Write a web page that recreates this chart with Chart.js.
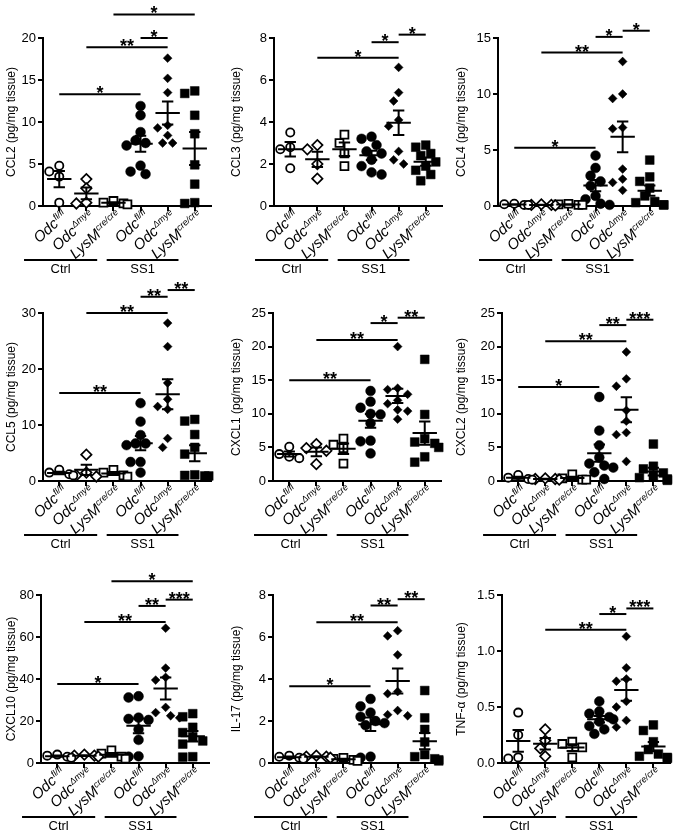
<!DOCTYPE html>
<html><head><meta charset="utf-8">
<script src="https://cdn.jsdelivr.net/npm/chart.js@4"></script>
<style>
html,body{margin:0;padding:0;background:#fff;}
#wrap{position:relative;width:677px;height:839px;overflow:hidden;background:#fff;}
canvas{position:absolute;}
</style></head><body><div id="wrap"></div>
<script>
// ---- categories & labels ----
const categoryBase = ['Odc','Odc','LysM','Odc','Odc','LysM'];
const categorySup = ['fl/fl','\u0394mye','cre/cre','fl/fl','\u0394mye','cre/cre'];
const groupNames = ['Ctrl','SS1'];
const panelTitles = ['CCL2 (pg/mg tissue)','CCL3 (pg/mg tissue)','CCL4 (pg/mg tissue)',
  'CCL5 (pg/mg tissue)','CXCL1 (pg/mg tissue)','CXCL2 (pg/mg tissue)',
  'CXCL10 (pg/mg tissue)','IL-17 (pg/mg tissue)','TNF-\u03b1 (pg/mg tissue)'];
const yMaxima = [20, 8, 15, 30, 25, 25, 80, 8, 1.5];
const yStepSizes = [5, 2, 5, 10, 5, 5, 20, 2, 0.5];
const yDecimals = [0, 0, 0, 0, 0, 0, 0, 0, 1];

// ---- values (one array per group) ----
const ccl2 = [[4.8,4.1,3.5,0.4],[3.2,2.1,0.4,0.3],[0.6,0.4,0.3,0.2],
  [11.9,10.8,8.8,7.8,7.5,7.2,4.8,4.1,3.8],[17.6,15.2,13.5,9.6,9.3,8.4,7.5,7.5],[13.7,13.4,10.8,8.6,4.9,2.6,0.4,0.3]];
const ccl3 = [[3.5,2.8,2.7,1.8],[2.9,2.7,2.0,1.3],[3.4,3.0,2.5,1.9],
  [3.3,3.2,2.9,2.6,2.5,2.2,1.9,1.6,1.5],[6.6,5.4,5.0,4.1,3.8,2.6,2.2,2.0],[2.9,2.8,2.5,2.4,2.1,1.9,1.7,1.5,1.2]];
const ccl4 = [[0.2,0.15,0.1,0.1],[0.15,0.1,0.1,0.05],[0.2,0.15,0.1,0.1],
  [4.5,3.4,2.7,2.2,1.8,0.9,0.6,0.2,0.1],[12.9,10.0,9.6,7.0,6.9,3.3,2.4,2.1,1.4],[4.1,2.6,2.2,1.6,0.9,0.4,0.3,0.1,0.1]];
const ccl5 = [[2.0,1.5,1.2,1.0],[4.7,1.5,1.0,0.8],[2.0,1.5,1.0,0.8],
  [13.9,10.6,8.2,6.7,6.7,6.4,3.4,3.4,1.5],[28.2,24.0,17.5,14.6,13.3,12.8,7.6,6.0],[11.0,10.7,8.3,6.0,4.8,1.1,1.0,0.9,0.9]];
const cxcl1 = [[5.1,4.0,3.6,3.4],[5.5,4.9,4.5,2.5],[6.3,5.4,4.9,2.6],
  [13.4,11.8,10.9,10.0,9.9,8.6,6.0,5.9,4.1],[20.0,13.8,13.6,12.9,12.0,11.5,10.6,10.4,9.2],[18.1,9.9,6.3,5.8,5.6,5.0,3.6,2.8]];
const cxcl2 = [[0.9,0.5,0.3,0.2],[0.4,0.3,0.3,0.2],[1.0,0.4,0.2,0.2],
  [12.5,7.5,5.3,3.5,2.6,2.3,2.0,1.3,0.3],[19.2,15.2,14.1,10.5,8.9,7.2,6.9,2.9],[5.5,2.2,1.8,1.2,0.8,0.5,0.3,0.2,0.1]];
const cxcl10 = [[4.0,3.5,3.0,2.5],[4.0,3.5,3.5,3.0],[6.0,4.5,3.0,2.0],
  [31.8,31.2,21.6,21.0,20.5,16.0,11.0,3.2,3.0],[64.2,45.2,40.8,39.5,26.5,24.0,22.5,21.5],[23.5,22.0,17.0,14.5,12.5,10.5,9.0,3.0,2.8]];
const il17 = [[0.35,0.3,0.25,0.2],[0.35,0.3,0.3,0.25],[0.25,0.2,0.15,0.1],
  [3.05,2.7,2.4,2.2,2.0,1.9,1.8,0.3,0.25],[6.3,6.05,5.15,3.4,3.3,2.5,2.3,2.25],[3.45,2.15,1.6,1.0,0.4,0.3,0.2,0.15,0.1]];
const tnfa = [[0.45,0.25,0.05,0.04],[0.3,0.2,0.13,0.06],[0.19,0.17,0.14,0.05],
  [0.55,0.46,0.44,0.41,0.39,0.37,0.33,0.3,0.26],[1.13,0.85,0.75,0.73,0.55,0.5,0.38,0.32],[0.34,0.29,0.19,0.12,0.08,0.06,0.05,0.04]];

// ---- significance bars: [fromGroup, toGroup, level, stars] ----
const ccl2Sig = [[0,3,13.3,'*'],[1,4,18.9,'**'],[3,4,20.0,'*'],[2,5,22.8,'*']];
const ccl3Sig = [[1,4,7.06,'*'],[3,4,7.8,'*'],[4,5,8.16,'*']];
const ccl4Sig = [[0,3,5.2,'*'],[1,4,13.7,'**'],[3,4,15.1,'*'],[4,5,15.65,'*']];
const ccl5Sig = [[0,3,15.7,'**'],[1,4,30.0,'**'],[3,4,32.9,'**'],[4,5,34.1,'**']];
const cxcl1Sig = [[0,3,15.0,'**'],[1,4,21.0,'**'],[3,4,23.5,'*'],[4,5,24.3,'**']];
const cxcl2Sig = [[0,3,14.0,'*'],[1,4,20.8,'**'],[3,4,23.2,'**'],[4,5,24.0,'***']];
const cxcl10Sig = [[0,3,37.6,'*'],[1,4,67.1,'**'],[3,4,74.8,'**'],[4,5,77.8,'***'],[2,5,86.6,'*']];
const il17Sig = [[0,3,3.66,'*'],[1,4,6.7,'**'],[3,4,7.5,'**'],[4,5,7.8,'**']];
const tnfaSig = [[1,4,1.19,'**'],[3,4,1.33,'*'],[4,5,1.38,'***']];

const panelValues = [ccl2, ccl3, ccl4, ccl5, cxcl1, cxcl2, cxcl10, il17, tnfa];
const panelSigs = [ccl2Sig, ccl3Sig, ccl4Sig, ccl5Sig, cxcl1Sig, cxcl2Sig, cxcl10Sig, il17Sig, tnfaSig];

// ---- layout / style ----
const FONT = '"Liberation Sans", Arial, Helvetica, sans-serif';
const colLeft = [0, 225, 450];
const colWidth = [225, 225, 227];
const rowTop = [0, 275, 557];
const axisLeft = [43, 49, 48, 43, 48, 52, 41, 48, 52];
const PLOT_TOP = 38, PLOT_H = 168, PLOT_W = 168, CANVAS_H = 280;
const X_MIN = -0.6, X_MAX = 5.6;
const PX_PER_X = PLOT_W / (X_MAX - X_MIN);
const LABEL_ANGLE = 42 * Math.PI / 180;
const markerStyle = ['circle','rectRot','rect','circle','rectRot','rect'];
const markerRadius = [4.1, 5.2, 5.6, 4.9, 4.4, 6.2];
const markerFill = ['#fff','#fff','#fff','#000','#000','#000'];
const markerBorder = [1.8, 1.7, 1.8, 0.5, 0.5, 0.5];

function jitter(vals, pxPerY) {
  const order = vals.map((v, i) => i).sort((a, b) => vals[b] - vals[a]);
  const placed = [], offs = new Array(vals.length);
  const cands = [0, -5, 5, -10, 10, -14, 14];
  order.forEach(i => {
    const py = vals[i] * pxPerY;
    let chosen = cands[cands.length - 1];
    for (const c of cands) {
      if (placed.every(p => Math.hypot(p.x - c, p.y - py) >= 9)) { chosen = c; break; }
    }
    placed.push({x: chosen, y: py});
    offs[i] = chosen;
  });
  return offs;
}

function stats(vals) {
  const n = vals.length;
  const m = vals.reduce((a, b) => a + b, 0) / n;
  const sd = Math.sqrt(vals.reduce((a, b) => a + (b - m) * (b - m), 0) / (n - 1));
  return {mean: m, sem: sd / Math.sqrt(n)};
}

const overlay = {
  id: 'overlay',
  afterDatasetsDraw(chart) {
    const o = chart.options.plugins.overlay;
    const {ctx, scales: {x, y}} = chart;
    ctx.save();
    ctx.strokeStyle = '#000'; ctx.lineWidth = 2; ctx.lineCap = 'butt';
    o.values.forEach((vals, i) => {
      const s = stats(vals);
      const cx = x.getPixelForValue(i);
      const hw = x.getPixelForValue(i + 0.45) - cx;
      const cw = x.getPixelForValue(i + 0.21) - cx;
      const ym = y.getPixelForValue(s.mean);
      const yt = y.getPixelForValue(s.mean + s.sem);
      const yb = y.getPixelForValue(Math.max(0, s.mean - s.sem));
      ctx.beginPath();
      ctx.moveTo(cx - hw, ym); ctx.lineTo(cx + hw, ym);
      ctx.moveTo(cx, yt); ctx.lineTo(cx, yb);
      ctx.moveTo(cx - cw, yt); ctx.lineTo(cx + cw, yt);
      ctx.moveTo(cx - cw, yb); ctx.lineTo(cx + cw, yb);
      ctx.stroke();
    });
    ctx.restore();
  },
  afterDraw(chart) {
    const o = chart.options.plugins.overlay;
    const {ctx, scales: {x, y}, chartArea} = chart;
    ctx.save();
    ctx.strokeStyle = '#000'; ctx.fillStyle = '#000'; ctx.lineWidth = 2;
    // significance bars
    o.sig.forEach(([a, b, lvl, stars]) => {
      const x1 = x.getPixelForValue(a), x2 = x.getPixelForValue(b);
      const yy = y.getPixelForValue(lvl);
      ctx.beginPath(); ctx.moveTo(x1, yy); ctx.lineTo(x2, yy); ctx.stroke();
      ctx.font = 'bold 18px ' + FONT; ctx.textAlign = 'center'; ctx.textBaseline = 'alphabetic';
      ctx.fillText(stars, (x1 + x2) / 2, yy + 5);
    });
    // rotated category labels
    const axisY = chartArea.bottom;
    categoryBase.forEach((base, i) => {
      const sup = categorySup[i];
      const tx = x.getPixelForValue(i);
      ctx.save();
      ctx.translate(tx + 9, axisY + 11);
      ctx.rotate(-LABEL_ANGLE);
      ctx.font = 'italic 15px ' + FONT;
      const wb = ctx.measureText(base).width;
      ctx.font = 'italic 9px ' + FONT;
      const ws = ctx.measureText(sup).width;
      ctx.textAlign = 'left'; ctx.textBaseline = 'alphabetic';
      ctx.font = 'italic 15px ' + FONT;
      ctx.fillText(base, -(wb + ws + 0.5), 0);
      ctx.font = 'italic 9px ' + FONT;
      ctx.fillText(sup, -ws, -5.5);
      ctx.restore();
    });
    // group underlines
    const spans = [[-1.3, 1.4], [1.75, 4.4]];
    ctx.font = '13px ' + FONT; ctx.textAlign = 'center'; ctx.textBaseline = 'middle';
    spans.forEach(([a, b], g) => {
      const x1 = x.getPixelForValue(a), x2 = x.getPixelForValue(b);
      const ly = axisY + 54;
      ctx.beginPath(); ctx.moveTo(x1, ly); ctx.lineTo(x2, ly); ctx.stroke();
      ctx.fillText(groupNames[g], (x1 + x2) / 2, ly + 9);
    });
    ctx.restore();
  }
};

const wrap = document.getElementById('wrap');
panelValues.forEach((vals, p) => {
  const col = p % 3, row = Math.floor(p / 3);
  const W = colWidth[col];
  const cv = document.createElement('canvas');
  cv.width = W; cv.height = CANVAS_H;
  cv.style.left = colLeft[col] + 'px'; cv.style.top = rowTop[row] + 'px';
  cv.style.width = W + 'px'; cv.style.height = CANVAS_H + 'px';
  wrap.appendChild(cv);
  const yMax = yMaxima[p], step = yStepSizes[p], dec = yDecimals[p];
  const pxPerY = PLOT_H / yMax;
  const datasets = vals.map((g, i) => {
    const offs = jitter(g, pxPerY);
    return {
      data: g.map((v, k) => ({x: i + offs[k] / PX_PER_X, y: v})),
      pointStyle: markerStyle[i], pointRadius: markerRadius[i], pointHoverRadius: markerRadius[i],
      pointBackgroundColor: markerFill[i], pointBorderColor: '#000', pointBorderWidth: markerBorder[i],
      showLine: false, clip: false
    };
  });
  const left = axisLeft[p];
  new Chart(cv, {
    type: 'scatter',
    data: {datasets},
    options: {
      responsive: false, animation: false, events: [], devicePixelRatio: 1,
      layout: {padding: {top: PLOT_TOP, left: 0, bottom: 0, right: W - left - PLOT_W}},
      plugins: {legend: {display: false}, tooltip: {enabled: false},
        overlay: {values: vals, sig: panelSigs[p]}},
      scales: {
        x: {type: 'linear', min: X_MIN, max: X_MAX,
          afterBuildTicks: s => { s.ticks = [0,1,2,3,4,5].map(v => ({value: v})); },
          ticks: {display: false},
          grid: {drawOnChartArea: false, drawTicks: true, tickLength: 5, color: '#000', lineWidth: 2},
          border: {display: true, color: '#000', width: 2},
          afterFit: s => { s.height = CANVAS_H - PLOT_TOP - PLOT_H; }},
        y: {type: 'linear', min: 0, max: yMax,
          afterBuildTicks: s => { const t = []; for (let v = 0; v <= yMax + 1e-9; v += step) t.push({value: +v.toFixed(3)}); s.ticks = t; },
          ticks: {color: '#000', font: {family: FONT, size: 13}, padding: 2,
            callback: v => Number(v).toFixed(dec)},
          grid: {drawOnChartArea: false, drawTicks: true, tickLength: 5, color: '#000', lineWidth: 2},
          border: {display: true, color: '#000', width: 2},
          title: {display: true, text: panelTitles[p], color: '#000',
            font: {family: FONT, size: 12}, padding: {top: 4, bottom: 0}},
          afterFit: s => { s.width = left; }}
      }
    },
    plugins: [overlay]
  });
});
</script>
</body></html>
